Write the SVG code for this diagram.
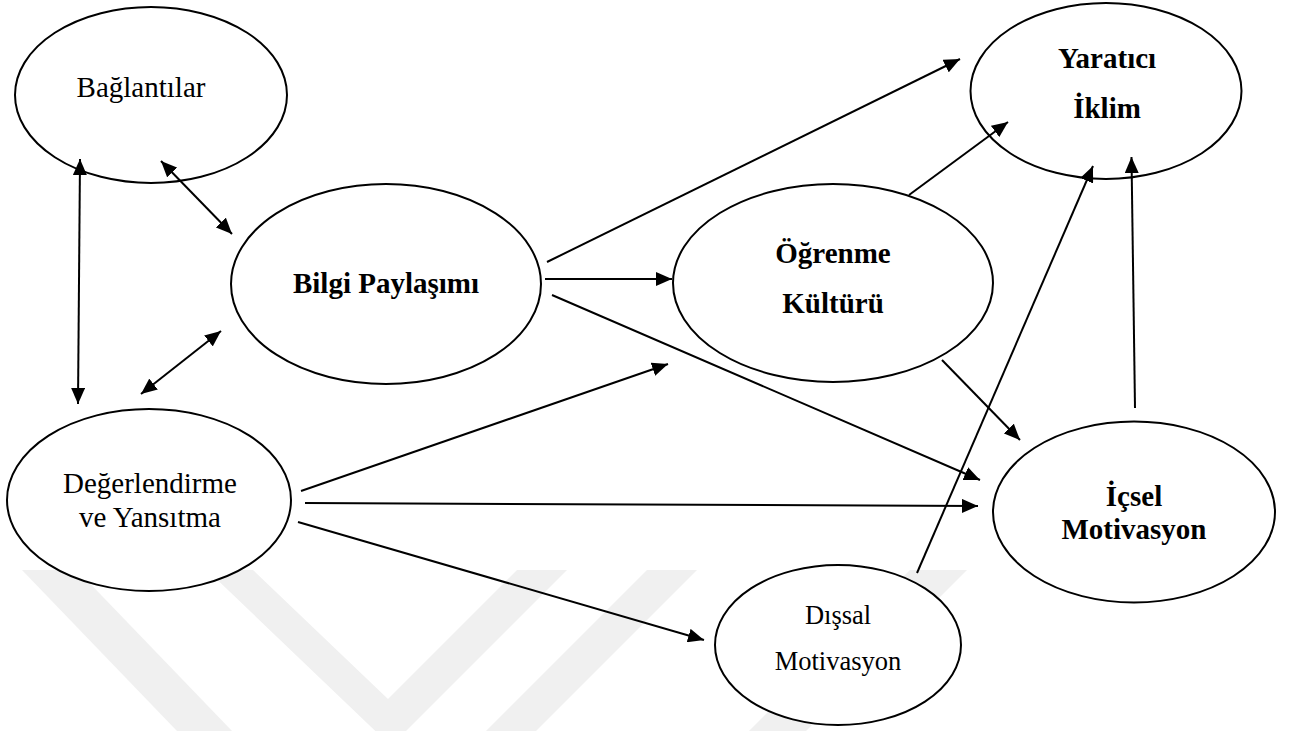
<svg xmlns="http://www.w3.org/2000/svg" width="1296" height="731" viewBox="0 0 1296 731">
<style>
.node ellipse { fill: #ffffff; stroke: #000000; stroke-width: 2; }
.node text { fill: #000000; text-anchor: middle; }
.reg { font-size: 29px; }
.small { font-size: 26.5px; }
.bold { font-size: 29px; font-weight: bold; }
.wm { fill: #f0f0f0; stroke: none; }
#connectors line { stroke: #000000; stroke-width: 2; fill: none; }
.one { marker-end: url(#arrow); }
.two { marker-start: url(#arrow); marker-end: url(#arrow); }
</style>
<defs>
<marker id="arrow" markerUnits="userSpaceOnUse" markerWidth="17" markerHeight="14" refX="16" refY="7" orient="auto-start-reverse" viewBox="0 0 17 14">
<path d="M0,0 L16,7 L0,14 z" fill="#000000"/>
</marker>
</defs>
<rect x="0" y="0" width="1296" height="731" fill="#ffffff"/>
<g id="watermark">
<polygon class="wm" points="22,570 77,570 232,731 177,731"/>
<polygon class="wm" points="207,570 253,570 388,699 517,570 567,570 391,746"/>
<polygon class="wm" points="647,570 697,570 536,731 486,731"/>
<polygon class="wm" points="910,570 967,570 806,731 749,731"/>
</g>
<g font-family="'Liberation Serif', 'DejaVu Serif', 'Times New Roman', Times, serif">
<g id="baglantilar" class="node">
<ellipse cx="151" cy="95" rx="136" ry="88"/>
<text class="reg" x="141" y="97">Bağlantılar</text>
</g>
<g id="degerlendirme" class="node">
<ellipse cx="149" cy="500" rx="142" ry="91"/>
<text class="reg" x="150" y="493">Değerlendirme</text>
<text class="reg" x="150" y="527">ve Yansıtma</text>
</g>
<g id="bilgi" class="node">
<ellipse cx="386" cy="284" rx="155" ry="100"/>
<text class="bold" x="386" y="293">Bilgi Paylaşımı</text>
</g>
<g id="ogrenme" class="node">
<ellipse cx="833" cy="283" rx="160" ry="99"/>
<text class="bold" x="833" y="263">Öğrenme</text>
<text class="bold" x="833" y="313">Kültürü</text>
</g>
<g id="yaratici" class="node">
<ellipse cx="1106" cy="91" rx="135.5" ry="88"/>
<text class="bold" x="1107" y="68">Yaratıcı</text>
<text class="bold" x="1107" y="118">İklim</text>
</g>
<g id="icsel" class="node">
<ellipse cx="1134" cy="512" rx="141" ry="90.5"/>
<text class="bold" x="1134" y="506">İçsel</text>
<text class="bold" x="1134" y="539">Motivasyon</text>
</g>
<g id="dissal" class="node">
<ellipse cx="838" cy="645" rx="123" ry="80"/>
<text class="small" x="838" y="624">Dışsal</text>
<text class="small" x="838" y="670">Motivasyon</text>
</g>
</g>
<g id="connectors">
<line class="two" x1="80" y1="159" x2="78" y2="404"/>
<line class="two" x1="161" y1="161" x2="232" y2="234"/>
<line class="two" x1="221" y1="331" x2="141" y2="394"/>
<line class="one" x1="547" y1="262" x2="960" y2="59"/>
<line class="one" x1="545" y1="279" x2="672" y2="279"/>
<line class="one" x1="552" y1="295" x2="980" y2="480"/>
<line class="one" x1="909" y1="195" x2="1008" y2="122"/>
<line class="one" x1="942" y1="360" x2="1020" y2="440"/>
<line class="one" x1="917" y1="573" x2="1093" y2="166"/>
<line class="one" x1="1135" y1="408" x2="1131.5" y2="157"/>
<line class="one" x1="301" y1="491" x2="668" y2="364"/>
<line class="one" x1="305" y1="503" x2="978" y2="506"/>
<line class="one" x1="298" y1="522" x2="704" y2="640"/>
</g>
</svg>
